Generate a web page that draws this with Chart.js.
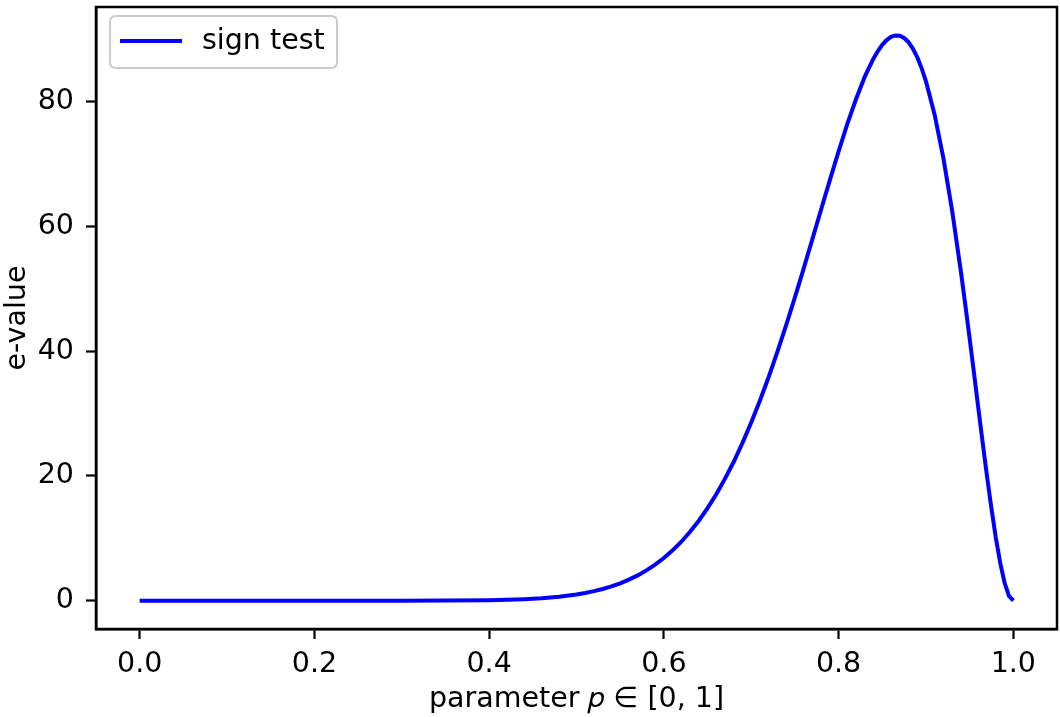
<!DOCTYPE html>
<html>
<head>
<meta charset="utf-8">
<script src="https://cdn.jsdelivr.net/npm/chart.js@4/dist/chart.umd.min.js"></script>
<style>
html,body{margin:0;padding:0;background:#fff;}
#wrap{width:1060px;height:717px;position:relative;}
</style>
</head>
<body>
<div id="wrap"><canvas id="c" width="1060" height="717"></canvas></div>
<script>
const seriesLabel = 'sign test';
const xTitle = 'parameter 𝑝 ∈ [0, 1]';
const yTitle = 'e-value';
const xTickValues = [0, 0.2, 0.4, 0.6, 0.8, 1.0];
const yTickValues = [0, 20, 40, 60, 80];
const pValues = [0, 0.05, 0.1, 0.15, 0.2, 0.25, 0.3, 0.35, 0.4, 0.42, 0.44, 0.46, 0.48,
  0.50, 0.51, 0.52, 0.53, 0.54, 0.55, 0.56, 0.57, 0.58, 0.59,
  0.60, 0.61, 0.62, 0.63, 0.64, 0.65, 0.66, 0.67, 0.68, 0.69,
  0.70, 0.71, 0.72, 0.73, 0.74, 0.75, 0.76, 0.77, 0.78, 0.79,
  0.80, 0.81, 0.82, 0.83, 0.84, 0.845, 0.85, 0.855, 0.86, 0.865, 0.87, 0.875,
  0.88, 0.885, 0.89, 0.895,
  0.90, 0.91, 0.92, 0.93, 0.94, 0.945, 0.95, 0.955, 0.96, 0.965,
  0.97, 0.975, 0.98, 0.985, 0.99, 0.995, 1.0];
const eValues = [0, 0, 0, 0, 0, 0, 0.003, 0.016, 0.079, 0.140, 0.238, 0.395, 0.637,
  1.0, 1.243, 1.536, 1.886, 2.30, 2.798, 3.38, 4.063, 4.86, 5.785,
  6.85, 8.071, 9.46, 11.05, 12.83, 14.84, 17.08, 19.57, 22.28, 25.31,
  28.57, 32.11, 35.87, 39.94, 44.20, 48.65, 53.24, 57.98, 62.73, 67.44,
  72.06, 76.45, 80.44, 84.03, 86.96, 88.15, 89.13, 89.90, 90.41, 90.64, 90.60, 90.23,
  89.57, 88.53, 87.16, 85.40,
  83.29, 77.89, 70.94, 62.51, 52.77, 47.51, 42.05, 36.47, 30.84, 25.26,
  19.85, 14.74, 10.08, 6.06, 2.875, 0.768, 0];

const FS = 28.5;
Chart.defaults.font.family = "'DejaVu Sans', sans-serif";
Chart.defaults.font.size = FS;
Chart.defaults.color = '#000';

const framePlugin = {
  id: 'frame',
  afterDraw(chart) {
    const a = chart.chartArea, ctx = chart.ctx;
    ctx.save();
    ctx.strokeStyle = '#000';
    ctx.lineWidth = 2.5;
    ctx.strokeRect(a.left, a.top, a.right - a.left, a.bottom - a.top);
    ctx.restore();
  }
};

const legendPlugin = {
  id: 'mplLegend',
  afterDatasetsDraw(chart) {
    const ctx = chart.ctx, a = chart.chartArea;
    const x = a.left + 14, y = a.top + 9, w = 227, h = 52, r = 6;
    ctx.save();
    ctx.beginPath();
    ctx.moveTo(x + r, y);
    ctx.lineTo(x + w - r, y);
    ctx.quadraticCurveTo(x + w, y, x + w, y + r);
    ctx.lineTo(x + w, y + h - r);
    ctx.quadraticCurveTo(x + w, y + h, x + w - r, y + h);
    ctx.lineTo(x + r, y + h);
    ctx.quadraticCurveTo(x, y + h, x, y + h - r);
    ctx.lineTo(x, y + r);
    ctx.quadraticCurveTo(x, y, x + r, y);
    ctx.closePath();
    ctx.fillStyle = 'rgba(255,255,255,0.8)';
    ctx.fill();
    ctx.strokeStyle = '#cccccc';
    ctx.lineWidth = 2;
    ctx.stroke();
    const ds = chart.data.datasets[0];
    ctx.beginPath();
    ctx.moveTo(x + 10, y + 25);
    ctx.lineTo(x + 72, y + 25);
    ctx.strokeStyle = ds.borderColor;
    ctx.lineWidth = ds.borderWidth;
    ctx.stroke();
    ctx.fillStyle = '#000';
    ctx.font = FS + "px 'DejaVu Sans', sans-serif";
    ctx.textBaseline = 'middle';
    ctx.textAlign = 'left';
    ctx.fillText(ds.label, x + 92, y + 26);
    ctx.restore();
  }
};

new Chart(document.getElementById('c'), {
  type: 'line',
  data: {
    datasets: [{
      label: seriesLabel,
      data: pValues.map((p, i) => ({x: p, y: eValues[i]})),
      borderColor: '#0000ff',
      borderWidth: 4,
      pointRadius: 0,
      tension: 0,
      fill: false
    }]
  },
  options: {
    responsive: false,
    animation: false,
    layout: {padding: {top: 7, right: 3, left: 0, bottom: 0}},
    plugins: {legend: {display: false}, tooltip: {enabled: false}},
    scales: {
      x: {
        type: 'linear',
        min: -0.05, max: 1.05,
        afterBuildTicks(s) { s.ticks = xTickValues.map(v => ({value: v})); },
        afterFit(s) { s.height = 88; s.paddingLeft = 0; s.paddingRight = 0; },
        ticks: {padding: 8, maxRotation: 0, autoSkip: false, callback: v => Number(v).toFixed(1)},
        grid: {drawOnChartArea: false, drawTicks: true, tickLength: 10, tickColor: '#000', tickWidth: 2.2},
        border: {display: true, color: '#000', width: 2.5},
        title: {display: true, text: xTitle, padding: {top: 0, bottom: 0}}
      },
      y: {
        type: 'linear',
        min: -4.535, max: 95.2,
        afterBuildTicks(s) { s.ticks = yTickValues.map(v => ({value: v})); },
        afterFit(s) { s.width = 96; s.paddingTop = 0; s.paddingBottom = 0; },
        ticks: {padding: 12, autoSkip: false, callback: v => String(v)},
        grid: {drawOnChartArea: false, drawTicks: true, tickLength: 10, tickColor: '#000', tickWidth: 2.2},
        border: {display: true, color: '#000', width: 2.5},
        title: {display: true, text: yTitle, padding: {top: 0, bottom: 1}}
      }
    }
  },
  plugins: [framePlugin, legendPlugin]
});
</script>
</body>
</html>
